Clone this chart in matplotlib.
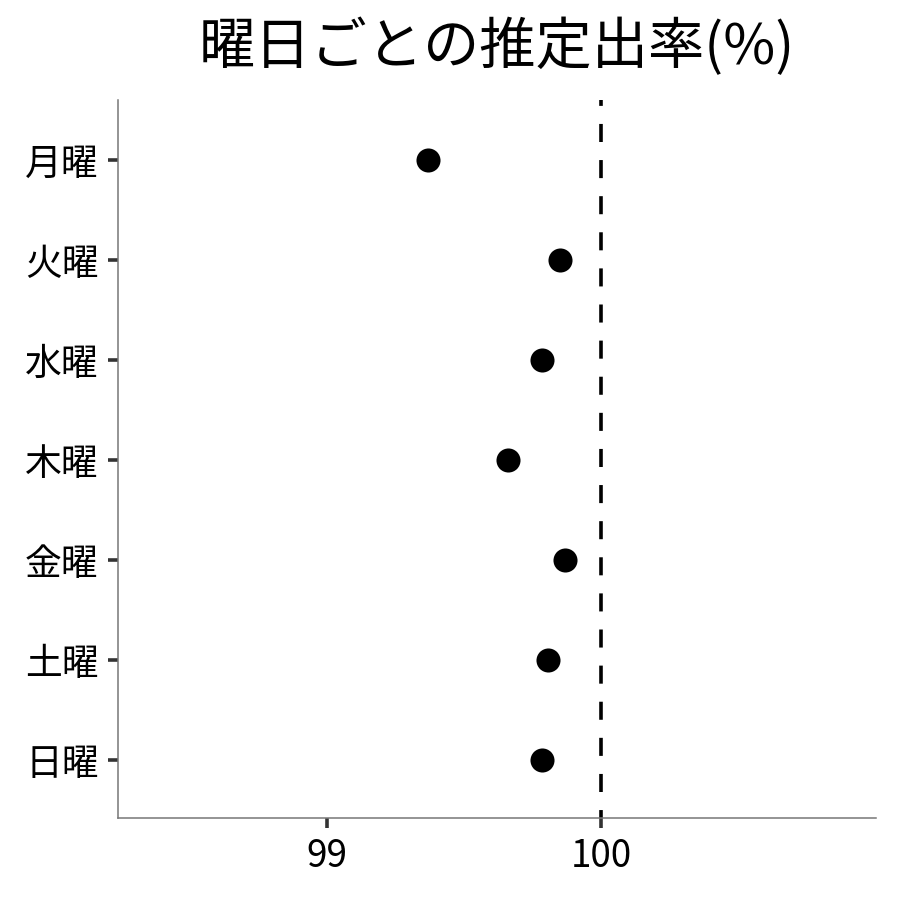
import matplotlib
matplotlib.use("Agg")
import matplotlib.pyplot as plt

plt.rcParams['font.family'] = ['Noto Sans CJK JP', 'DejaVu Sans']

# データ
曜日 = ["月曜", "火曜", "水曜", "木曜", "金曜", "土曜", "日曜"]
推定出率 = [99.37, 99.85, 99.785, 99.66, 99.87, 99.807, 99.785]
x_ticks = [99, 100]
基準線 = 100

fig = plt.figure(figsize=(9, 9), dpi=100)
ax = fig.add_axes([118 / 900, 82 / 900, 758 / 900, 718 / 900])

y_pos = list(range(len(曜日), 0, -1))
ax.scatter(推定出率, y_pos, s=300, color="black", zorder=3, linewidths=0)
# 破線（100%）
ax.axvline(基準線, color="black", linestyle=(2.8, (5, 5)), linewidth=2.6, zorder=2)

ax.set_xlim(98.237, 101.004)
ax.set_ylim(0.42, 7.6)
ax.set_yticks(y_pos)
ax.set_yticklabels(曜日)
ax.set_xticks(x_ticks)
ax.set_xticklabels([str(v) for v in x_ticks])

for s in ["top", "right"]:
    ax.spines[s].set_visible(False)
for s in ["left", "bottom"]:
    ax.spines[s].set_color("#777777")
    ax.spines[s].set_linewidth(1.1)

ax.tick_params(axis="both", length=7.5, width=2.6, color="#333333",
               labelsize=26.5, labelcolor="black", pad=6.5)

ax.set_title("曜日ごとの推定出率(%)", fontsize=40.5, pad=26)

fig.savefig("out.png", dpi=100)
